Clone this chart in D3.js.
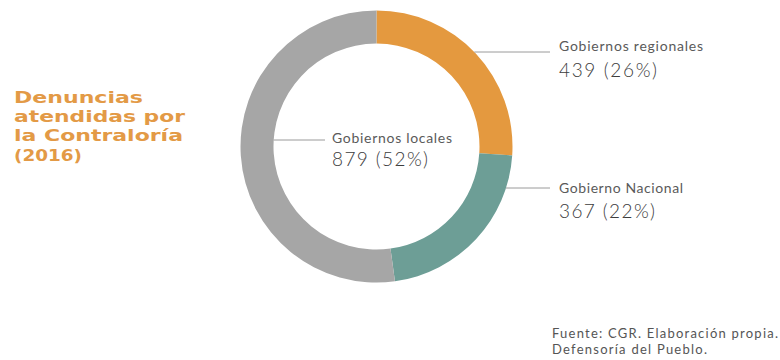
<!DOCTYPE html>
<html><head><meta charset="utf-8">
<script src="https://cdn.jsdelivr.net/npm/d3@7"></script>
<style>body{margin:0;background:#fff}</style>
</head><body>
<script>
const categories = ["Gobiernos regionales", "Gobierno Nacional", "Gobiernos locales"];
const values = [439, 367, 879];
const percents = ["26%", "22%", "52%"];
const colors = ["#E4993F", "#6D9E96", "#A6A6A6"];
const titleLines = ["Denuncias", "atendidas por", "la Contraloría", "(2016)"];
const sourceLines = ["Fuente: CGR. Elaboración propia.", "Defensoría del Pueblo."];

const W = 780, H = 360;
const svg = d3.select("body").append("svg").attr("width", W).attr("height", H);

const cx = 376.5, cy = 146.5, rOuter = 136, rInner = 103;
const g = svg.append("g").attr("transform", `translate(${cx},${cy})`);
const pie = d3.pie().sort(null).value(d => d)(values);
const arc = d3.arc().innerRadius(rInner).outerRadius(rOuter);
g.selectAll("path").data(pie).join("path")
  .attr("d", arc).attr("fill", (d, i) => colors[i]);

const labelFont = "Lato, 'Open Sans', sans-serif";
const layout = [
  {y: 52, x0: null, x1: 550, tx: 559, ty1: 51, ty2: 77, w1: 144, w2: 98, outer: true},
  {y: 188, x0: null, x1: 550, tx: 559, ty1: 193, ty2: 218, w1: 124, w2: 96, outer: true},
  {y: 140, x0: cx - rInner, x1: 325, tx: 332, ty1: 143, ty2: 166, w1: 120, w2: 96, outer: false}
];
const lineColor = "#9a9a9a";
layout.forEach((L, i) => {
  let x0 = L.x0;
  if (L.outer) {
    const dy = L.y - cy;
    x0 = cx + Math.sqrt(rOuter * rOuter - dy * dy);
  }
  svg.append("line").attr("x1", x0).attr("x2", L.x1).attr("y1", L.y).attr("y2", L.y)
    .attr("stroke", lineColor).attr("stroke-width", 1);
  svg.append("text").attr("x", L.tx).attr("y", L.ty1)
    .attr("font-family", labelFont).attr("font-size", 14)
    .attr("textLength", L.w1).attr("lengthAdjust", "spacing")
    .attr("fill", "#5a5a5a").text(categories[i]);
  svg.append("text").attr("x", L.tx).attr("y", L.ty2)
    .attr("font-family", labelFont).attr("font-size", 19).attr("font-weight", 300)
    .attr("textLength", L.w2).attr("lengthAdjust", "spacing")
    .attr("fill", "#3c3c3c").text(`${values[i]} (${percents[i]})`);
});

const titleWidths = [129, 171, 169, 68];
titleLines.forEach((t, i) => {
  svg.append("text").attr("font-family", "'DejaVu Sans', sans-serif")
    .attr("font-weight", 700).attr("font-size", 16.5).attr("fill", "#E39A46")
    .attr("x", 14).attr("y", 103 + i * 19.2)
    .attr("textLength", titleWidths[i]).attr("lengthAdjust", "spacingAndGlyphs")
    .text(t);
});

const srcWidths = [226, 155];
sourceLines.forEach((t, i) => {
  svg.append("text").attr("font-family", labelFont)
    .attr("font-size", 13).attr("fill", "#555")
    .attr("x", 552).attr("y", 338 + i * 16)
    .attr("textLength", srcWidths[i]).attr("lengthAdjust", "spacing")
    .text(t);
});
</script>
</body></html>
